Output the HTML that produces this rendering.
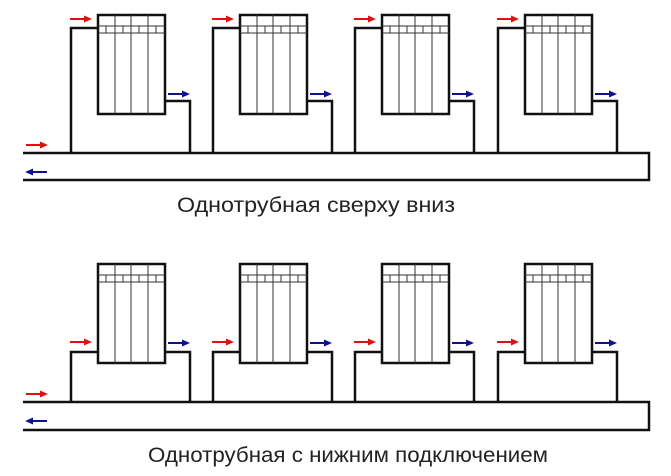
<!DOCTYPE html>
<html><head><meta charset="utf-8"><style>
html,body{margin:0;padding:0;background:#fff;width:671px;height:476px;overflow:hidden}
</style></head><body>
<svg width="671" height="476" viewBox="0 0 671 476" xmlns="http://www.w3.org/2000/svg">
<defs>
<g id="rad">
<rect x="0" y="0" width="67" height="99" fill="#fff" stroke="#111" stroke-width="2.5"/>
<path d="M17,0V99M33,0V99M50,0V99" stroke="#333" stroke-width="1"/>
<path d="M0,11H67M0,18H67" stroke="#333" stroke-width="1"/>
<path d="M8,11V18M25,11V18M41,11V18M58,11V18" stroke="#333" stroke-width="1"/>
</g>
<g id="ra"><path d="M0,0H16" stroke="#e01010" stroke-width="2"/><path d="M14,-3.5L22,0L14,3.5Z" fill="#e01010"/></g>
<g id="ba"><path d="M0,0H16" stroke="#101090" stroke-width="2"/><path d="M14,-3.5L22,0L14,3.5Z" fill="#101090"/></g>
<g id="bl"><path d="M6,0H22" stroke="#101090" stroke-width="2"/><path d="M8,-3.5L0,0L8,3.5Z" fill="#101090"/></g>
<g id="topunit">
<path d="M71,153V28H98M165,101H190V153" fill="none" stroke="#111" stroke-width="2.5"/>
<use href="#rad" x="98" y="15"/>
<use href="#ra" x="70" y="19"/>
<use href="#ba" x="168" y="94"/>
</g>
<g id="botunit">
<path d="M71,402V352H98M165,352H190V402" fill="none" stroke="#111" stroke-width="2.5"/>
<use href="#rad" x="98" y="264"/>
<use href="#ra" x="70" y="342"/>
<use href="#ba" x="168" y="343"/>
</g>
</defs>
<use href="#topunit" x="0"/>
<use href="#topunit" x="142"/>
<use href="#topunit" x="284"/>
<use href="#topunit" x="427"/>
<path d="M23,153H649V180H23" fill="none" stroke="#111" stroke-width="2.5"/>
<use href="#ra" x="26" y="145"/>
<use href="#bl" x="25" y="172"/>

<use href="#botunit" x="0"/>
<use href="#botunit" x="142"/>
<use href="#botunit" x="284"/>
<use href="#botunit" x="427"/>
<path d="M23,402H649V430H23" fill="none" stroke="#111" stroke-width="2.5"/>
<use href="#ra" x="26" y="394"/>
<use href="#bl" x="25" y="421"/>

<text x="177" y="212" font-family="Liberation Sans, sans-serif" font-size="21" fill="#222" textLength="278" lengthAdjust="spacingAndGlyphs">Однотрубная сверху вниз</text>
<text x="148" y="462" font-family="Liberation Sans, sans-serif" font-size="21" fill="#222" textLength="400" lengthAdjust="spacingAndGlyphs">Однотрубная с нижним подключением</text>
</svg>
</body></html>
